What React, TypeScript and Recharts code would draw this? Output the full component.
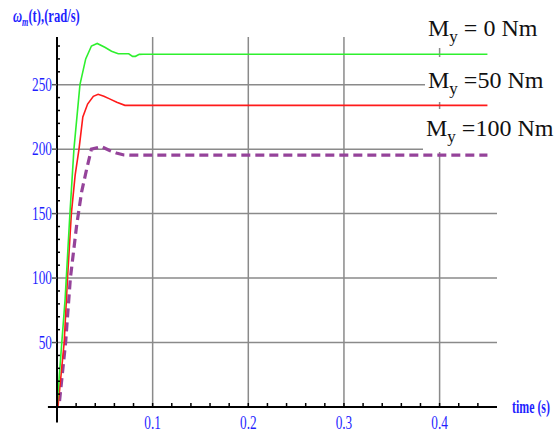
import { CartesianGrid, Line, LineChart, ReferenceLine, XAxis, YAxis } from "recharts";

// time (s) / speed (rad/s) samples
const tGreen = [0, 0.004, 0.0085, 0.0135, 0.0177, 0.024, 0.03, 0.036, 0.042, 0.05, 0.057, 0.064, 0.075, 0.079, 0.082, 0.086, 0.09, 0.45];
const wGreen = [0, 40, 84, 150, 200, 250, 270, 280, 282, 279, 276, 274, 274, 272, 272, 273.5, 273.6, 273.6];

const tRed = [0.001, 0.0075, 0.011, 0.015, 0.019, 0.023, 0.027, 0.032, 0.038, 0.043, 0.049, 0.055, 0.0625, 0.071, 0.45];
const wRed = [0, 50, 100, 150, 180, 200, 225, 235, 241, 242.6, 241, 239, 236.4, 234, 234];

const tPurple = [0, 0.002, 0.009, 0.014, 0.0205, 0.0257, 0.031, 0.036, 0.0465, 0.055, 0.062, 0.07, 0.076, 0.45];
const wPurple = [-6, 0, 50, 100, 140.6, 166.7, 184.5, 200, 202, 199, 197, 195.5, 195.3, 195.3];

const xTicks = [0.02, 0.04, 0.06, 0.08, 0.1, 0.12, 0.14, 0.16, 0.18, 0.2, 0.22, 0.24, 0.26, 0.28, 0.3, 0.32, 0.34, 0.36, 0.38, 0.4, 0.42, 0.44];
const yTicks = [10, 20, 30, 40, 50, 60, 70, 80, 90, 100, 110, 120, 130, 140, 150, 160, 170, 180, 190, 200, 210, 220, 230, 240, 250, 260, 270, 280];
const xGrid = [0.1, 0.2, 0.3, 0.4];
const yGrid = [50, 100, 150, 200, 250];

const legendLabels = ["= 0 Nm", "=50 Nm", "=100 Nm"];

const toPoints = (ts: number[], ws: number[]) => ts.map((t, i) => ({ t, w: ws[i] }));
const green = toPoints(tGreen, wGreen);
const red = toPoints(tRed, wRed);
const purple = toPoints(tPurple, wPurple);

const BLUE = "#1f1fff";
const SERIF = "'Liberation Serif', 'DejaVu Serif', serif";

const XTick = (props: any) => {
  const { x, y, payload } = props;
  const v = payload.value;
  const major = Math.round(v * 100) % 10 === 0;
  return (
    <g>
      <line x1={x} x2={x} y1={y} y2={y - 4} stroke="#000" strokeWidth={1.5} />
      {major && (
        <text
          transform={`translate(${x}, ${y + 22}) scale(0.95, 1.35)`}
          textAnchor="middle"
          fontFamily={SERIF}
          fontSize={14}
          fill={BLUE}
        >
          {v.toFixed(1)}
        </text>
      )}
    </g>
  );
};

const YTick = (props: any) => {
  const { x, y, payload } = props;
  const v = payload.value;
  const major = v % 50 === 0;
  return (
    <g>
      {major ? (
        <>
          <line x1={x - 5} x2={x} y1={y} y2={y} stroke="#555" strokeWidth={1.5} />
          <text
            transform={`translate(${x - 5}, ${y + 6}) scale(0.95, 1.35)`}
            textAnchor="end"
            fontFamily={SERIF}
            fontSize={14}
            fill={BLUE}
          >
            {v}
          </text>
        </>
      ) : (
        <line x1={x} x2={x + 3} y1={y} y2={y} stroke="#000" strokeWidth={1.5} />
      )}
    </g>
  );
};

const boxes = [
  { x: 425, y: 8, w: 122, h: 40, base: 36 },
  { x: 425, y: 57, w: 122, h: 45, base: 88 },
  { x: 423, y: 109, w: 130, h: 43, base: 136 },
];

export default function App() {
  return (
    <div style={{ position: "absolute", left: 0, top: 0, width: 560, height: 438, background: "#fff" }}>
      <LineChart
        width={560}
        height={438}
        margin={{ top: 37, right: 63, bottom: 0, left: 0 }}
      >
        <CartesianGrid
          horizontalValues={yGrid}
          verticalValues={xGrid}
          stroke="#8a8a8a"
          strokeWidth={1.5}
        />
        <XAxis
          type="number"
          dataKey="t"
          domain={[0, 0.46]}
          ticks={xTicks}
          interval={0}
          tick={<XTick />}
          tickSize={0}
          tickMargin={0}
          tickLine={false}
          height={31}
          stroke="#000"
          strokeWidth={2}
          allowDataOverflow
        />
        <YAxis
          type="number"
          domain={[0, 287]}
          ticks={yTicks}
          interval={0}
          tick={<YTick />}
          tickSize={0}
          tickMargin={0}
          tickLine={false}
          width={57}
          stroke="#000"
          strokeWidth={2}
          allowDataOverflow
        />
        <ReferenceLine
          segment={[{ x: 0, y: -12 }, { x: 0, y: 0 }]}
          stroke="#000"
          strokeWidth={2}
          ifOverflow="visible"
        />
        <ReferenceLine
          segment={[{ x: -0.0095, y: 0 }, { x: 0, y: 0 }]}
          stroke="#000"
          strokeWidth={2}
          ifOverflow="visible"
        />
        <Line
          data={purple}
          dataKey="w"
          type="linear"
          stroke="#95439a"
          strokeWidth={3.2}
          strokeDasharray="9 5"
          dot={false}
          isAnimationActive={false}
        />
        <Line
          data={red}
          dataKey="w"
          type="linear"
          stroke="#ff1a1a"
          strokeWidth={1.6}
          dot={false}
          isAnimationActive={false}
        />
        <Line
          data={green}
          dataKey="w"
          type="linear"
          stroke="#2ef02e"
          strokeWidth={1.6}
          dot={false}
          isAnimationActive={false}
        />
      </LineChart>
      <svg
        width={560}
        height={438}
        style={{ position: "absolute", left: 0, top: 0, pointerEvents: "none" }}
      >
        <text
          transform="translate(13, 22) scale(0.9, 1.3)"
          fontFamily={SERIF}
          fontWeight="bold"
          fontSize={14}
          fill={BLUE}
        >
          <tspan fontStyle="italic">ω</tspan>
          <tspan fontStyle="italic" fontSize={9} dy={3}>m</tspan>
          <tspan dy={-3}>(t),(rad/s)</tspan>
        </text>
        <text
          transform="translate(512, 413) scale(0.85, 1.3)"
          fontFamily={SERIF}
          fontWeight="bold"
          fontSize={14}
          fill={BLUE}
        >
          time (s)
        </text>
        {boxes.map((b, i) => (
          <g key={i}>
            <rect x={b.x} y={b.y} width={b.w} height={b.h} fill="#fff" />
            <text x={b.x + 3} y={b.base} fontFamily={SERIF} fontSize={24} fill="#111">
              M
              <tspan fontSize={17} dy={6}>y</tspan>
              <tspan dy={-6}> {legendLabels[i]}</tspan>
            </text>
          </g>
        ))}
      </svg>
    </div>
  );
}
